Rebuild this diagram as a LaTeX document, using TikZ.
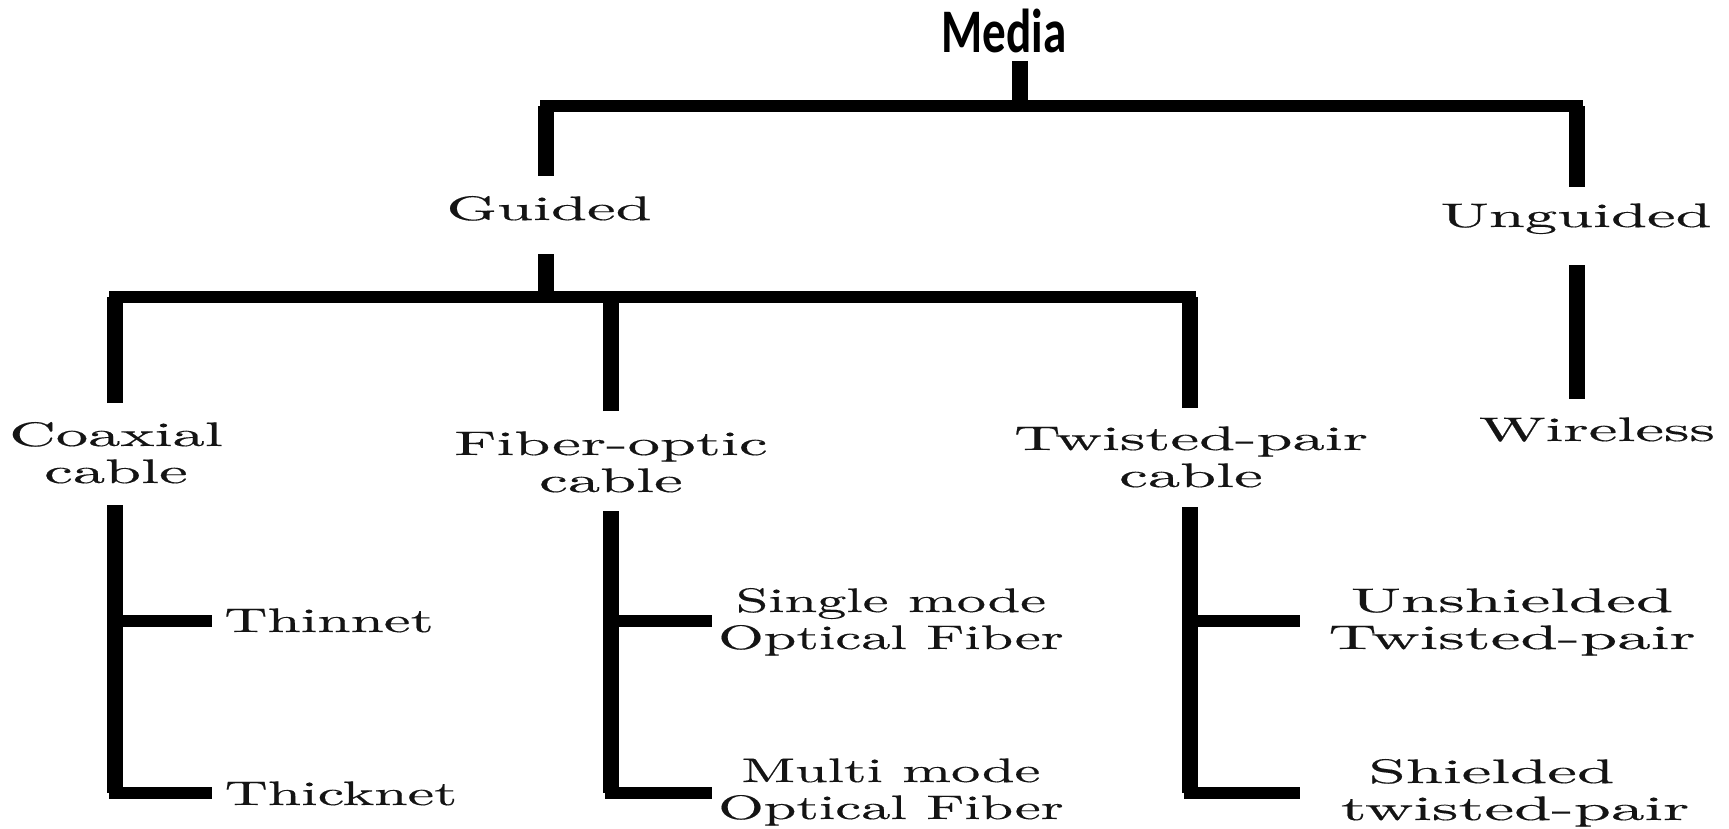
\documentclass[tikz,border=0pt]{standalone}
\usepackage{fontspec}
\usepackage{graphicx}
\newfontfamily\headfont{Carlito}
\newfontfamily\lblfont{lmroman10-regular.otf}[FakeBold=0.3]
% wide serif labels, centred lines, baseline on the first line
\newcommand{\stretchlabel}[2][1.9]{\scalebox{#1}[1]{\begin{tabular}[t]{@{}c@{}}#2\end{tabular}}}

\begin{document}
\begin{tikzpicture}[x=1pt, y=-1pt,
  bar/.style={line width=12pt, line cap=rect, draw=black},
  stem/.style={line width=16pt, line cap=butt, draw=black},
  lbl/.style={inner sep=0pt, anchor=base, font=\lblfont\fontsize{34}{37}\selectfont, text=black!92},
  head/.style={inner sep=0pt, anchor=base, font=\headfont\bfseries\fontsize{62}{62}\selectfont}]

\useasboundingbox (0,0) rectangle (1729,829);

% ---- labels ----
\node[head] (media) at (1004,53) {\scalebox{0.76}[1]{Media}};

\node[lbl] (guided)   at (549,220)  {\stretchlabel{Guided}};
\node[lbl] (unguided) at (1576,227) {\stretchlabel{Unguided}};
\node[lbl] (wireless) at (1597,441) {\stretchlabel{Wireless}};

\node[lbl] (coax)    at (116,446)  {\stretchlabel{Coaxial\\cable}};
\node[lbl] (fiber)   at (611,455)  {\stretchlabel{Fiber-optic\\cable}};
\node[lbl] (twisted) at (1191,450) {\stretchlabel{Twisted-pair\\cable}};

\node[lbl] (thinnet)  at (329,632) {\stretchlabel[1.76]{Thinnet}};
\node[lbl] (thicknet) at (341,805) {\stretchlabel[1.76]{Thicknet}};

\node[lbl] (single) at (891,612) {\stretchlabel[1.72]{Single mode\\Optical Fiber}};
\node[lbl] (multi)  at (891,782) {\stretchlabel[1.72]{Multi mode\\Optical Fiber}};

\node[lbl] (utp) at (1512,612) {\stretchlabel[1.97]{Unshielded\\Twisted-pair}};
\node[lbl] (stp) at (1515,783) {\stretchlabel[1.97]{Shielded\hspace*{24pt}\\twisted-pair}};

% ---- junction points and free ends ----
\coordinate (m-drop) at (1020,61);
\coordinate (bar1)   at (1020,106);
\coordinate (g-up)   at (546,176);
\coordinate (u-up)   at (1577,187);

\coordinate (g-down) at (546,254);
\coordinate (bar2)   at (546,297);
\coordinate (c-up)   at (115,403);
\coordinate (f-up)   at (611,411);
\coordinate (t-up)   at (1190,408);

\coordinate (w-up)   at (1577,265);
\coordinate (w-down) at (1577,399);

\coordinate (c-down) at (115,505);
\coordinate (c-b1)   at (212,621);
\coordinate (c-b2)   at (212,793);

\coordinate (f-down) at (611,511);
\coordinate (f-b1)   at (712,621);
\coordinate (f-b2)   at (712,793);

\coordinate (t-down) at (1190,507);
\coordinate (t-b1)   at (1300,621);
\coordinate (t-b2)   at (1300,793);

% ---- first split: Media -> Guided / Unguided ----
\draw[stem] (m-drop) -- (bar1);
\draw[bar] (g-up |- bar1) -- (u-up |- bar1);
\draw[stem] (g-up) -- (g-up |- bar1);
\draw[stem] (u-up) -- (u-up |- bar1);

% ---- Unguided -> Wireless ----
\draw[stem] (w-up) -- (w-down);

% ---- second split: Guided -> cables ----
\draw[stem] (g-down) -- ([yshift=-6pt]bar2);
\draw[bar] (c-up |- bar2) -- (t-up |- bar2);
\draw[stem] (c-up) -- (c-up |- bar2);
\draw[stem] (f-up) -- (f-up |- bar2);
\draw[stem] (t-up) -- (t-up |- bar2);

% ---- coaxial branches ----
\draw[stem] (c-down) -- (c-down |- c-b2);
\draw[bar] (c-down |- c-b1) -- ([xshift=-6pt]c-b1);
\draw[bar] (c-down |- c-b2) -- ([xshift=-6pt]c-b2);

% ---- fiber-optic branches ----
\draw[stem] (f-down) -- (f-down |- f-b2);
\draw[bar] (f-down |- f-b1) -- ([xshift=-6pt]f-b1);
\draw[bar] (f-down |- f-b2) -- ([xshift=-6pt]f-b2);

% ---- twisted-pair branches ----
\draw[stem] (t-down) -- (t-down |- t-b2);
\draw[bar] (t-down |- t-b1) -- ([xshift=-6pt]t-b1);
\draw[bar] (t-down |- t-b2) -- ([xshift=-6pt]t-b2);

\end{tikzpicture}
\end{document}
